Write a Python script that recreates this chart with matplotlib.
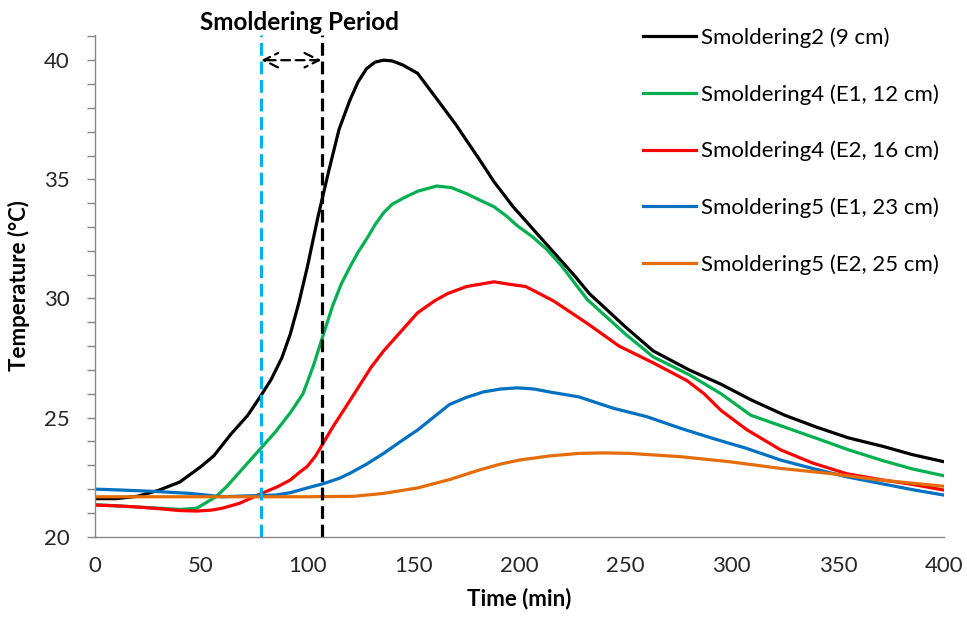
import matplotlib
matplotlib.use("Agg")
from matplotlib import pyplot as plt
from matplotlib.ticker import MultipleLocator

plt.rcParams['font.family'] = ['Lato', 'DejaVu Sans']

# Smoldering2 (9 cm)
t_s2 = [0, 10, 20, 30, 40, 50, 56, 64, 72, 78, 83, 88, 92, 96, 100, 105, 110, 115, 120, 124, 128, 132, 136, 140, 145,
        152, 160, 170, 181, 188, 197, 204, 210, 218, 226, 233, 250, 263, 280, 295, 309, 325, 340, 355, 371, 385, 400]
T_s2 = [21.6, 21.6, 21.7, 21.95, 22.3, 22.95, 23.4, 24.3, 25.1, 25.9, 26.6, 27.5, 28.5, 29.8, 31.3, 33.4, 35.3, 37.1,
        38.3, 39.1, 39.65, 39.92, 40.0, 39.97, 39.8, 39.45, 38.5, 37.3, 35.85, 34.9, 33.85, 33.15, 32.55, 31.75, 30.95,
        30.2, 28.8, 27.8, 27.0, 26.4, 25.75, 25.1, 24.6, 24.15, 23.8, 23.45, 23.15]

# Smoldering4 (E1, 12 cm)
t_s4e1 = [0, 10, 20, 30, 40, 48, 57, 62, 68, 78, 85, 92, 98, 103, 108, 112, 116, 120, 124, 128, 132, 136, 140, 145,
          152, 161, 168, 175, 182, 188, 194, 199, 206, 213, 220, 226, 232, 250, 263, 280, 295, 309, 325, 340, 355, 371,
          385, 400]
T_s4e1 = [21.35, 21.3, 21.25, 21.2, 21.15, 21.2, 21.68, 22.1, 22.7, 23.7, 24.4, 25.2, 26.0, 27.2, 28.6, 29.7, 30.6,
          31.3, 31.95, 32.5, 33.1, 33.6, 33.95, 34.2, 34.5, 34.72, 34.65, 34.4, 34.1, 33.85, 33.45, 33.05, 32.6, 32.05,
          31.35, 30.65, 29.95, 28.5, 27.55, 26.8, 26.0, 25.1, 24.6, 24.13, 23.65, 23.2, 22.85, 22.56]

# Smoldering4 (E2, 16 cm)
t_s4e2 = [0, 10, 20, 30, 40, 48, 55, 60, 68, 78, 86, 92, 97, 100, 104, 108, 112, 116, 120, 125, 130, 136, 145, 152,
          160, 166, 175, 188, 195, 203, 216, 232, 247, 263, 279, 287, 295, 307, 323, 338, 354, 370, 385, 400]
T_s4e2 = [21.33, 21.3, 21.25, 21.18, 21.1, 21.08, 21.12, 21.2, 21.4, 21.8, 22.1, 22.38, 22.75, 22.95, 23.4, 24.0,
          24.6, 25.15, 25.7, 26.4, 27.1, 27.8, 28.7, 29.4, 29.9, 30.2, 30.5, 30.7, 30.6, 30.5, 29.9, 28.95, 28.0, 27.3,
          26.55, 26.0, 25.3, 24.5, 23.65, 23.1, 22.65, 22.4, 22.2, 21.96]

# Smoldering5 (E1, 23 cm)
t_s5e1 = [0, 13, 29, 45, 60, 73, 85, 92, 100, 108, 115, 120, 128, 136, 144, 152, 160, 167, 175, 183, 191, 199, 207,
          214, 228, 244, 260, 276, 291, 307, 323, 338, 354, 370, 385, 400]
T_s5e1 = [22.0, 21.96, 21.9, 21.82, 21.68, 21.72, 21.75, 21.85, 22.05, 22.24, 22.45, 22.66, 23.05, 23.5, 24.0, 24.48,
          25.05, 25.55, 25.85, 26.08, 26.2, 26.25, 26.2, 26.08, 25.87, 25.4, 25.04, 24.55, 24.13, 23.71, 23.22, 22.87,
          22.52, 22.24, 21.98, 21.75]

# Smoldering5 (E2, 25 cm)
t_s5e2 = [0, 20, 40, 60, 80, 100, 122, 136, 152, 167, 181, 191, 200, 214, 228, 240, 252, 276, 299, 323, 346, 370, 385,
          400]
T_s5e2 = [21.68, 21.68, 21.68, 21.68, 21.68, 21.68, 21.7, 21.82, 22.05, 22.4, 22.8, 23.05, 23.22, 23.39, 23.5, 23.52,
          23.5, 23.36, 23.15, 22.87, 22.66, 22.38, 22.25, 22.12]

period_start = 78
period_end = 107

fig = plt.figure(figsize=(9.67, 6.17), dpi=100)
ax = fig.add_axes([0.0982, 0.130, 0.878, 0.813])

ax.plot(t_s2, T_s2, color='black', lw=2.3, label='Smoldering2 (9 cm)')
ax.plot(t_s4e1, T_s4e1, color='#00B050', lw=2.3, label='Smoldering4 (E1, 12 cm)')
ax.plot(t_s4e2, T_s4e2, color='#FF0000', lw=2.3, label='Smoldering4 (E2, 16 cm)')
ax.plot(t_s5e1, T_s5e1, color='#0070C0', lw=2.3, label='Smoldering5 (E1, 23 cm)')
ax.plot(t_s5e2, T_s5e2, color='#E46C0A', lw=2.3, label='Smoldering5 (E2, 25 cm)')

ax.axvline(period_start, color='#00B0F0', lw=2.3, ls=(0, (4, 1.8)))
ax.axvline(period_end, color='black', lw=2.3, ls=(0, (4, 1.8)))
ax.annotate('', xy=(period_start + 0.3, 40), xytext=(period_end - 0.3, 40),
            arrowprops=dict(arrowstyle='<->', ls=(0, (4, 2.5)), lw=1.6, color='black',
                            shrinkA=0, shrinkB=0, mutation_scale=26))
ax.text((period_start + period_end) / 2 + 4, 41.6, 'Smoldering Period', ha='center', va='center',
        fontsize=17.5, fontweight='bold')

ax.set_xlim(0, 400)
ax.set_ylim(20, 41.05)
ax.xaxis.set_major_locator(MultipleLocator(50))
ax.yaxis.set_major_locator(MultipleLocator(5))
ax.yaxis.set_minor_locator(MultipleLocator(1))

for s in ['top', 'right']:
    ax.spines[s].set_visible(False)
for s in ['left', 'bottom']:
    ax.spines[s].set_color('#868686')
    ax.spines[s].set_linewidth(1.0)

ax.tick_params(axis='y', which='both', direction='out', length=6, color='#868686', width=1.0)
ax.tick_params(axis='y', which='major', labelsize=16, pad=12, labelcolor='#262626')
ax.tick_params(axis='x', which='both', length=0, labelsize=16, pad=14, labelcolor='#262626')

ax.set_xlabel('Time (min)', fontsize=16, fontweight='bold', labelpad=8)
ax.set_ylabel('Temperature (°C)', fontsize=16, fontweight='bold', labelpad=10)

ax.legend(loc='upper left', bbox_to_anchor=(0.665, 0.956), bbox_transform=fig.transFigure,
          frameon=False, fontsize=16, handlelength=2.4, handletextpad=0.2, labelspacing=1.63,
          borderpad=0, borderaxespad=0)

fig.savefig('out.png', dpi=100)
